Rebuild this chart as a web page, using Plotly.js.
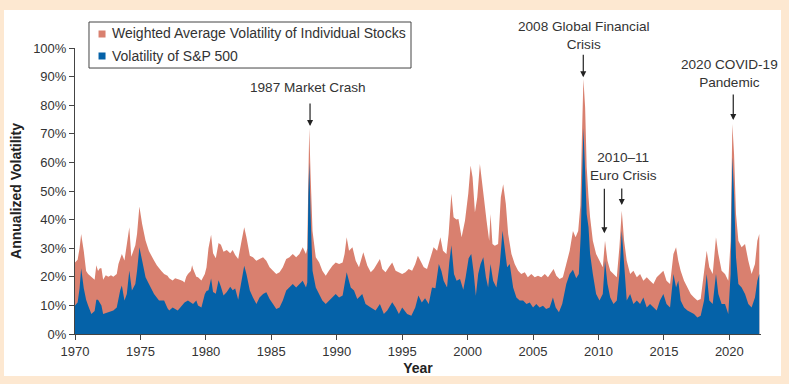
<!DOCTYPE html>
<html>
<head>
<meta charset="utf-8">
<script src="https://cdn.plot.ly/plotly-3.0.1.min.js"></script>
<style>
  html, body { margin: 0; padding: 0; background: #fde8d1; width: 789px; height: 384px; overflow: hidden; }
  #chart { position: absolute; left: 4px; top: 10px; width: 777px; height: 366px; background: #ffffff; border-radius: 3px; }
</style>
</head>
<body>
<div id="chart"></div>
<script>
// Weighted average volatility of individual stocks (annualized, %)
const indivYears = [1970.0,1970.2,1970.35,1970.47,1970.67,1970.85,1971.0,1971.25,1971.5,1971.63,1971.76,1971.9,1972.02,1972.15,1972.35,1972.55,1972.75,1972.93,1973.19,1973.32,1973.45,1973.58,1973.78,1973.96,1974.15,1974.3,1974.48,1974.61,1974.74,1974.92,1975.13,1975.39,1975.65,1975.85,1976.04,1976.25,1976.42,1976.6,1976.81,1977.07,1977.2,1977.46,1977.65,1977.85,1978.0,1978.24,1978.37,1978.5,1978.63,1978.85,1978.95,1979.02,1979.27,1979.4,1979.66,1979.92,1980.05,1980.2,1980.4,1980.55,1980.76,1980.97,1981.15,1981.35,1981.6,1981.86,1982.05,1982.24,1982.47,1982.73,1982.93,1983.1,1983.36,1983.6,1983.86,1984.1,1984.37,1984.62,1984.87,1985.13,1985.38,1985.63,1985.88,1986.14,1986.39,1986.64,1986.9,1987.15,1987.4,1987.65,1987.75,1987.83,1987.9,1988.0,1988.15,1988.4,1988.66,1988.9,1989.16,1989.4,1989.67,1989.92,1990.18,1990.45,1990.6,1990.76,1990.94,1991.2,1991.45,1991.7,1992.03,1992.34,1992.6,1992.84,1993.1,1993.3,1993.48,1993.73,1993.98,1994.24,1994.5,1994.75,1995.0,1995.25,1995.5,1995.76,1996.0,1996.2,1996.4,1996.65,1996.9,1997.16,1997.4,1997.67,1997.92,1998.12,1998.38,1998.55,1998.76,1998.93,1999.14,1999.3,1999.54,1999.8,2000.05,2000.23,2000.38,2000.56,2000.74,2000.94,2001.07,2001.24,2001.45,2001.65,2001.75,2001.9,2002.08,2002.33,2002.54,2002.72,2002.92,2003.1,2003.35,2003.6,2003.86,2004.1,2004.37,2004.6,2004.87,2005.13,2005.38,2005.63,2005.9,2006.14,2006.4,2006.57,2006.78,2007.03,2007.28,2007.54,2007.8,2008.05,2008.25,2008.45,2008.62,2008.73,2008.85,2008.98,2009.1,2009.24,2009.36,2009.57,2009.82,2010.08,2010.33,2010.5,2010.69,2010.9,2011.15,2011.4,2011.6,2011.78,2011.96,2012.16,2012.42,2012.67,2012.93,2013.18,2013.43,2013.69,2013.94,2014.2,2014.45,2014.7,2014.96,2015.2,2015.47,2015.73,2015.93,2016.1,2016.28,2016.54,2016.8,2017.05,2017.3,2017.56,2017.81,2018.07,2018.27,2018.47,2018.73,2018.98,2019.16,2019.41,2019.67,2019.92,2020.1,2020.23,2020.36,2020.51,2020.69,2020.94,2021.2,2021.45,2021.7,2021.96,2022.14,2022.29];
const indivVol = [25,26,30,35,29,22,21,20,19,24,22,23,23,19,20.5,20,20.5,20,21,24.5,26,28,25.7,31.5,37.3,27,29,31,35,44.6,38.5,32.7,29,27.5,25.7,24,22.8,22,21,20.4,19.5,18.7,19.5,19.3,19,18.5,18,20,21,22,24,22.8,20,19.8,18.7,21,23.3,30,34.7,28.2,26.5,31.8,31.2,28.8,29.4,28.2,29.4,27.6,26.2,32.6,37.3,33.8,27.4,26.8,25.6,26.2,26.8,25.6,23.3,22.1,21,21.6,23.3,26.2,26.8,28,26.8,28,30.3,28,30,53.6,72,56,36,26.8,25,22.1,20.4,22.1,23.9,25,24.5,25,28,33.8,29.1,30.3,25.6,23.3,28.6,23.9,21.6,22.7,24.5,26.2,22.7,21.6,23.3,25,22.1,21.6,21,21.6,22.7,22.1,24.5,27.4,25.6,23.3,22.7,26.8,30.3,29.1,33.8,29.1,28,35,49,40.8,40,40.2,33.8,39.6,49,58.9,54.8,42.5,47.8,59.4,53.6,47.8,39.6,32.6,42,31.5,30.9,31.5,47.8,52.4,45.5,35,28,24.5,22.1,21,21.6,19.8,21,19.8,20.4,19.8,21,19.8,21.6,22.7,20.4,19.2,19.8,24.5,29.1,36,33.8,36,45,67.6,89.2,79.3,58.3,47.8,40.8,32.6,28,25.6,23.3,32.6,25.6,22.1,21,19.8,30.3,43.1,32.6,25.6,21,22.1,19.8,21,18.6,19.8,18.6,17.5,19.8,21,22.1,18.6,17.5,28,30.3,25.6,22.1,18.6,16.3,14,12.8,11.7,12.2,21,29.1,23.3,21,33.8,28,22.1,21,18.6,32.6,73.4,63,42,32.6,30.3,31.5,25.6,21,24.5,32.6,35];

// Volatility of the S&P 500 (annualized, %)
const spYears = [1970.0,1970.2,1970.35,1970.47,1970.67,1970.85,1971.0,1971.25,1971.5,1971.63,1971.76,1971.9,1972.02,1972.15,1972.55,1972.93,1973.19,1973.32,1973.45,1973.58,1973.78,1973.96,1974.15,1974.35,1974.61,1974.74,1974.92,1975.13,1975.39,1975.65,1976.04,1976.42,1976.81,1977.07,1977.2,1977.46,1977.85,1978.0,1978.24,1978.37,1978.63,1979.02,1979.27,1979.4,1979.66,1979.92,1980.05,1980.2,1980.4,1980.55,1980.76,1980.97,1981.15,1981.35,1981.6,1981.86,1982.05,1982.24,1982.47,1982.73,1982.93,1983.1,1983.36,1983.6,1983.86,1984.1,1984.37,1984.62,1984.87,1985.13,1985.38,1985.63,1985.88,1986.14,1986.39,1986.64,1986.9,1987.15,1987.4,1987.65,1987.75,1987.83,1987.9,1988.0,1988.15,1988.4,1988.66,1988.9,1989.16,1989.4,1989.67,1989.92,1990.18,1990.45,1990.76,1991.07,1991.32,1991.57,1991.95,1992.2,1992.6,1992.97,1993.3,1993.6,1993.86,1994.24,1994.5,1994.75,1995.0,1995.38,1995.7,1996.0,1996.24,1996.5,1996.75,1997.03,1997.28,1997.54,1997.8,1998.0,1998.17,1998.43,1998.6,1998.76,1998.96,1999.16,1999.42,1999.67,1999.85,2000.08,2000.28,2000.45,2000.63,2000.81,2000.99,2001.2,2001.4,2001.57,2001.75,2001.95,2002.2,2002.46,2002.67,2002.84,2003.02,2003.22,2003.48,2003.73,2003.98,2004.24,2004.5,2004.75,2005.0,2005.25,2005.5,2005.76,2006.0,2006.27,2006.52,2006.73,2006.98,2007.23,2007.54,2007.8,2008.05,2008.3,2008.5,2008.65,2008.73,2008.85,2008.98,2009.1,2009.24,2009.36,2009.57,2009.82,2010.08,2010.33,2010.5,2010.69,2010.9,2011.15,2011.4,2011.6,2011.78,2011.96,2012.16,2012.42,2012.67,2012.93,2013.18,2013.43,2013.69,2013.94,2014.2,2014.45,2014.7,2014.96,2015.2,2015.47,2015.73,2015.93,2016.1,2016.28,2016.54,2016.8,2017.05,2017.3,2017.56,2017.81,2018.07,2018.27,2018.47,2018.73,2018.98,2019.16,2019.41,2019.67,2019.92,2020.1,2020.23,2020.36,2020.51,2020.69,2020.94,2021.2,2021.45,2021.7,2021.96,2022.14,2022.29];
const spVol = [10,11,16,23,16,12,10,7,8,12,12,11,10,7,7.6,8.2,9.3,13,15.2,17,11.7,14,22.2,15.2,17.5,22,30.3,25.7,19.8,17.5,14,11.7,11.7,9,8.2,9.3,8.2,9,10.5,11,11.7,10.5,11.7,10,9.3,14,15,15.3,19.4,14.7,14.1,18.8,16.5,13.5,14.7,16.5,15.3,15.9,12,18.6,23.9,21,15.2,12.8,10.5,12.8,14,14.6,12.2,10.5,8.7,9.3,11.7,15.2,16.3,17.5,16.3,17.5,18.6,16.3,18,47.8,60,42,22.1,16.3,14,11.7,10.5,11.7,12.8,14,12.8,13.5,21.6,16.3,15.2,12.2,14,10.5,9.3,8.2,10.5,7,8.2,11.1,9.3,7,9.3,7,6.4,9.3,13.5,11,12.5,10.5,16.3,16,24.5,22,18.6,16.3,25,31,21,18.6,19.2,15.5,19.8,26.5,28,22,13.4,21,24.5,26.8,19.8,16.3,24.5,18.6,16.3,24.5,36.1,30.3,23.3,24.5,16.3,12.8,11.7,11.7,10.5,11,9.3,10.5,9.3,9.9,8.7,9.3,12.8,9.3,7.6,10.5,17.5,21,22.5,19.5,21,35,52,72,57,42,37.3,28,21,14,11.7,14,25.6,17.5,12.8,10.5,11.7,21,36.1,23.3,11.7,14,10.5,11.7,10.5,12.8,9.3,10.5,9.3,8.2,11.7,14,10.5,9.3,21,16.3,18.6,11.7,9.3,8.2,7.6,7,5.8,6.4,11.7,21,11.7,10.5,21,14,10.5,10.5,7,21,61.8,49,26.8,17.5,16.3,14,10.5,9.3,12.8,18.6,21];

const seriesNames = ['Weighted Average Volatility of Individual Stocks', 'Volatility of S&P 500'];
const xTickYears = [1970, 1975, 1980, 1985, 1990, 1995, 2000, 2005, 2010, 2015, 2020];
const yTickValues = [0, 10, 20, 30, 40, 50, 60, 70, 80, 90, 100];
const eventLabels = ['1987 Market Crash', '2008 Global Financial<br>Crisis', '2010–11<br>Euro Crisis', '2020 COVID-19<br>Pandemic'];

const RED = '#d9806f';
const BLUE = '#0562a8';
const FONT = 'Liberation Sans, Arial, Helvetica, sans-serif';

const traces = [
  { x: indivYears, y: indivVol, type: 'scatter', mode: 'lines', fill: 'tozeroy',
    line: { width: 0, color: RED }, fillcolor: RED, name: seriesNames[0], showlegend: false, hoverinfo: 'skip' },
  { x: spYears, y: spVol, type: 'scatter', mode: 'lines', fill: 'tozeroy',
    line: { width: 0, color: BLUE }, fillcolor: BLUE, name: seriesNames[1], showlegend: false, hoverinfo: 'skip' }
];

const txt = { family: FONT, size: 13.6, color: '#333' };
const legTxt = { family: FONT, size: 14, color: '#333' };
function arrow(x, y, ay) {
  return { x: x, y: y, xref: 'x', yref: 'y', text: '', showarrow: true, ax: 0, ay: ay,
           arrowhead: 2, arrowsize: 1, arrowwidth: 1.2, arrowcolor: '#222' };
}
function label(x, y, t) {
  return { x: x, y: y, xref: 'x', yref: 'y', text: t, showarrow: false, font: txt,
           xanchor: 'center', yanchor: 'middle' };
}

const layout = {
  width: 777, height: 366,
  margin: { l: 71, r: 20, t: 38, b: 42 },
  paper_bgcolor: '#ffffff', plot_bgcolor: '#ffffff',
  font: { family: FONT, size: 13, color: '#333' },
  showlegend: false,
  xaxis: {
    range: [1970, 2022.42], tickvals: xTickYears, ticktext: xTickYears.map(String),
    ticks: 'outside', ticklen: 5, tickcolor: '#444', tickwidth: 1,
    showline: true, linecolor: '#444', linewidth: 1, showgrid: false, zeroline: false,
    tickfont: { family: FONT, size: 13, color: '#333' },
    title: { text: '<b>Year</b>', font: { family: FONT, size: 14, color: '#222' }, standoff: 8 }
  },
  yaxis: {
    range: [0, 100], tickvals: yTickValues, ticktext: yTickValues.map(v => v + '%'),
    ticks: 'outside', ticklen: 5, tickcolor: '#444', tickwidth: 1,
    showline: true, linecolor: '#444', linewidth: 1, showgrid: false, zeroline: false,
    tickfont: { family: FONT, size: 13, color: '#333' },
    title: { text: '<b>Annualized Volatility</b>', font: { family: FONT, size: 14, color: '#222' }, standoff: 8 }
  },
  shapes: [
    { type: 'rect', xref: 'paper', yref: 'paper', x0: 0.0204, x1: 0.4898, y0: 0.930, y1: 1.0909,
      line: { color: '#444', width: 1 }, fillcolor: 'rgba(255,255,255,0)' },
    { type: 'rect', xref: 'paper', yref: 'paper', x0: 0.0343, x1: 0.0445, y0: 1.0367, y1: 1.0612,
      line: { width: 0 }, fillcolor: RED },
    { type: 'rect', xref: 'paper', yref: 'paper', x0: 0.0343, x1: 0.0445, y0: 0.9598, y1: 0.9843,
      line: { width: 0 }, fillcolor: BLUE }
  ],
  annotations: [
    { xref: 'paper', yref: 'paper', x: 0.051, y: 1.0507, text: seriesNames[0], showarrow: false,
      xanchor: 'left', yanchor: 'middle', font: legTxt },
    { xref: 'paper', yref: 'paper', x: 0.051, y: 0.972, text: seriesNames[1], showarrow: false,
      xanchor: 'left', yanchor: 'middle', font: legTxt },
    label(1987.79, 86.3, eventLabels[0]),
    arrow(1987.96, 72.7, -24),
    { x: 2008.86, xref: 'x', y: 1.045, yref: 'paper', text: eventLabels[1], showarrow: false,
      font: txt, xanchor: 'center', yanchor: 'middle' },
    arrow(2008.84, 89.8, -24),
    label(2011.95, 58.5, eventLabels[2]),
    arrow(2010.45, 35.2, -46),
    arrow(2011.78, 45.1, -18),
    label(2019.98, 91, eventLabels[3]),
    arrow(2020.3, 74.8, -27)
  ]
};

Plotly.newPlot('chart', traces, layout, { displayModeBar: false, staticPlot: true });
</script>
</body>
</html>
